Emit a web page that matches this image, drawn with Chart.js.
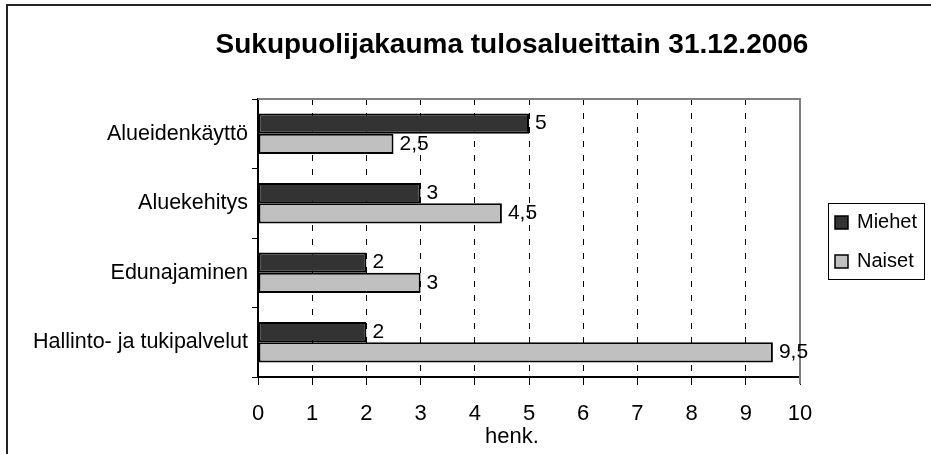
<!DOCTYPE html>
<html>
<head>
<meta charset="utf-8">
<script src="https://cdn.jsdelivr.net/npm/chart.js@4"></script>
<style>
  html, body { margin: 0; padding: 0; background: #fff; }
  #wrap { width: 931px; height: 454px; }
</style>
</head>
<body>
<div id="wrap"><canvas id="myChart" width="931" height="454"></canvas></div>
<script>
const chartTitle = 'Sukupuolijakauma tulosalueittain 31.12.2006';
const axisTitle = 'henk.';
const categories = ['Alueidenkäyttö', 'Aluekehitys', 'Edunajaminen', 'Hallinto- ja tukipalvelut'];
const seriesNames = ['Miehet', 'Naiset'];
const miehet = [5, 3, 2, 2];
const naiset = [2.5, 4.5, 3, 9.5];
const xMin = 0, xMax = 10, xStep = 1;

const FONT = '"Liberation Sans", Arial, sans-serif';

// frame, title, axis title, plot border and legend box
const decorations = {
    id: 'decorations',
    beforeDraw(chart) {
        const c = chart.ctx;
        c.save();
        c.fillStyle = '#fff';
        c.fillRect(0, 0, chart.width, chart.height);
        c.strokeStyle = '#222';
        c.lineWidth = 2;
        c.beginPath();
        c.moveTo(7, chart.height);
        c.lineTo(7, 5);
        c.lineTo(chart.width, 5);
        c.stroke();
        c.restore();
    },
    beforeDatasetsDraw(chart) {
        const a = chart.chartArea;
        const c = chart.ctx;
        c.save();
        c.strokeStyle = '#808080';
        c.lineWidth = 2;
        c.beginPath();
        c.moveTo(a.left, a.top);
        c.lineTo(a.right, a.top);
        c.lineTo(a.right, a.bottom + 7);
        c.stroke();
        c.restore();
    },
    afterDraw(chart) {
        const a = chart.chartArea;
        const c = chart.ctx;
        const mid = (a.left + a.right) / 2 - 17;
        c.save();
        c.fillStyle = '#000';
        c.textAlign = 'center';
        c.textBaseline = 'middle';
        c.font = 'bold 28px ' + FONT;
        c.fillText(chartTitle, mid, 45);
        c.font = '22px ' + FONT;
        c.fillText(axisTitle, mid, 437);

        // legend
        const lx = a.right + 28, ly = (a.top + a.bottom) / 2 - 35;
        c.strokeStyle = '#000';
        c.lineWidth = 1;
        c.strokeRect(lx + 0.5, ly + 0.5, 96, 76);
        c.font = '20px ' + FONT;
        c.textAlign = 'left';
        chart.data.datasets.forEach((ds, i) => {
            const y = ly + 19 + i * 39;
            c.fillStyle = ds.backgroundColor;
            c.fillRect(lx + 7, y - 6, 13, 13);
            c.lineWidth = 1.5;
            c.strokeRect(lx + 7, y - 6, 13, 13);
            c.fillStyle = '#000';
            c.fillText(ds.label, lx + 29, y);
        });
        c.restore();
    },
    afterDatasetsDraw(chart) {
        const c = chart.ctx;
        c.save();
        c.fillStyle = '#000';
        c.font = '21px ' + FONT;
        c.textAlign = 'left';
        c.textBaseline = 'middle';
        chart.data.datasets.forEach((ds, i) => {
            chart.getDatasetMeta(i).data.forEach((bar, j) => {
                c.fillText(String(ds.data[j]).replace('.', ','), bar.x + 6, bar.y);
            });
        });
        c.restore();
    }
};

let ctx = document.getElementById('myChart').getContext('2d');
let myChart = new Chart(ctx, {
    type: 'bar',
    data: {
        labels: categories,
        datasets: [
            {
                label: seriesNames[0],
                data: miehet,
                backgroundColor: '#333333',
                borderColor: '#000',
                borderWidth: 2,
                borderSkipped: false
            },
            {
                label: seriesNames[1],
                data: naiset,
                backgroundColor: '#c0c0c0',
                borderColor: '#000',
                borderWidth: 2,
                borderSkipped: false
            }
        ]
    },
    options: {
        indexAxis: 'y',
        responsive: false,
        animation: false,
        devicePixelRatio: 1,
        categoryPercentage: 0.58,
        barPercentage: 1,
        layout: {
            padding: { top: 99, right: 131, left: 0, bottom: 0 }
        },
        plugins: {
            legend: { display: false },
            title: { display: false },
            tooltip: { enabled: false }
        },
        scales: {
            x: {
                min: xMin,
                max: xMax,
                ticks: {
                    stepSize: xStep,
                    color: '#000',
                    padding: 16,
                    font: { family: FONT, size: 22 }
                },
                grid: {
                    color: (c) => (c.tick && (c.tick.value === xMin || c.tick.value === xMax)) ? 'rgba(0,0,0,0)' : '#000',
                    lineWidth: 1,
                    tickColor: '#000',
                    tickLength: 8,
                    tickBorderDash: []
                },
                border: { color: '#000', width: 2, dash: [6, 8] },
                afterFit: (s) => { s.height = 77; }
            },
            y: {
                ticks: {
                    color: '#000',
                    padding: 4,
                    font: { family: FONT, size: 21.5 }
                },
                grid: {
                    drawOnChartArea: false,
                    tickColor: '#000',
                    tickLength: 6,
                    offset: true
                },
                border: { color: '#000', width: 2 },
                afterFit: (s) => { s.width = 258; }
            }
        }
    },
    plugins: [decorations]
});
</script>
</body>
</html>
